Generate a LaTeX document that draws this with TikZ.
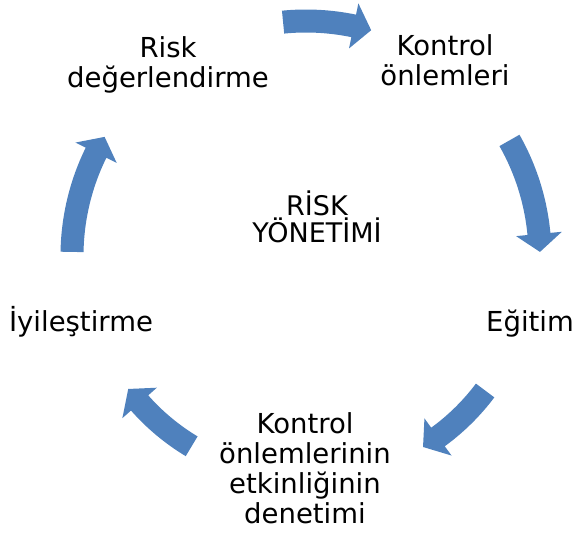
\documentclass[tikz,border=0pt]{standalone}
\usepackage{fontspec}
\setmainfont{DejaVu Sans}
\definecolor{arrowblue}{RGB}{79,129,189}
\tikzset{lbl/.style={align=center, inner sep=0pt}}
\begin{document}
\begin{tikzpicture}[x=1pt, y=1pt, font=\fontsize{27.5}{30}\selectfont, line join=round]
	\def\cx{306}\def\cy{282}\def\bw{11.5}\def\hw{23}\def\hl{18}
	\useasboundingbox (0,0) rectangle (575,538);
	\begin{scope}[shift={(\cx,\cy)}]
		\foreach \ta/\tip/\rad in {95.6/73.9/235, 29.6/1/234, -36.9/-58.5/224, -121/-143.2/222, 179/149.4/234}{
			\pgfmathsetmacro{\hb}{\tip+\hl/\rad*57.3}
			\pgfmathsetmacro{\ro}{\rad+\bw}\pgfmathsetmacro{\ri}{\rad-\bw}
			\pgfmathsetmacro{\ho}{\rad+\hw}\pgfmathsetmacro{\hi}{\rad-\hw}
			\fill[arrowblue] (\ta:\ro pt) arc[start angle=\ta, end angle=\hb, radius=\ro pt] -- (\hb:\ho pt) -- (\tip:\rad pt) -- (\hb:\hi pt) -- (\hb:\ri pt) arc[start angle=\hb, end angle=\ta, radius=\ri pt] -- cycle;
		}
	\end{scope}
	\node[lbl] (risk) at (168,473.4) {Risk\\değerlendirme};
	\node[lbl] (kontrol) at (445,477.4) {Kontrol\\önlemleri};
	\node[lbl, anchor=base] (egitim) at (530,206.3) {Eğitim};
	\node[lbl, anchor=base] (iyilestirme) at (81,206.3) {İyileştirme};
	\node[lbl] (denetim) at (305,70) {Kontrol\\önlemlerinin\\etkinliğinin\\denetimi};
	\node[lbl, font=\fontsize{27}{27}\selectfont] (yonetim) at (317,321) {RİSK\\YÖNETİMİ};
\end{tikzpicture}
\end{document}
